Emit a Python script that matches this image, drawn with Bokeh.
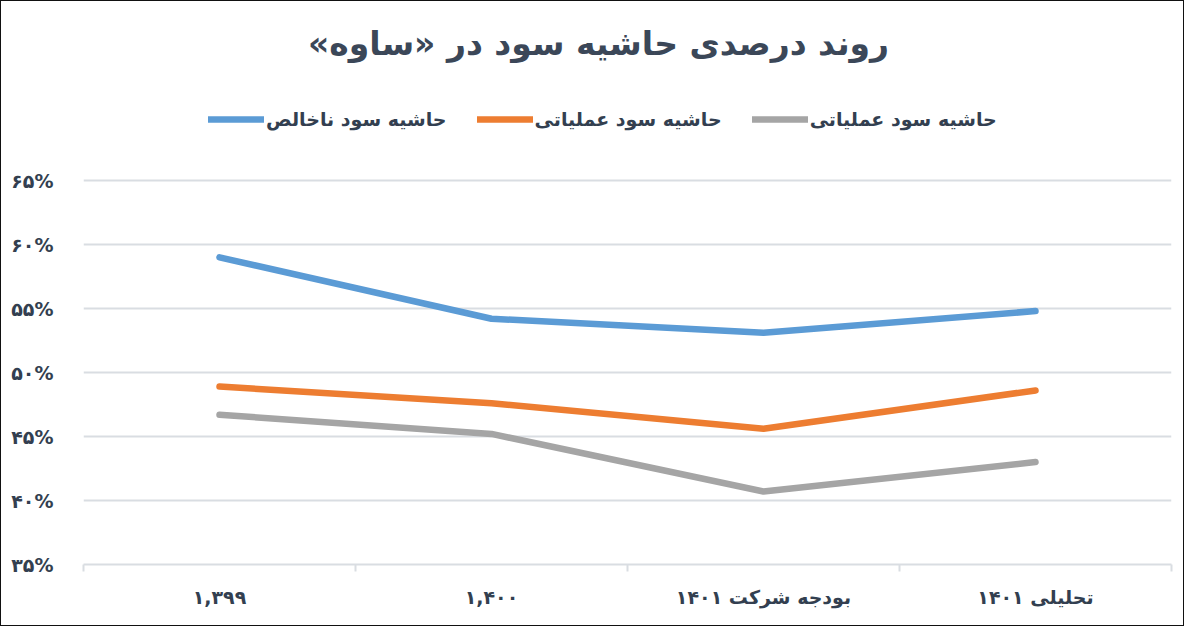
from bokeh.plotting import figure
from bokeh.models import Legend, LegendItem, FixedTicker, Range1d, ColumnDataSource, Label
from bokeh.embed import file_html
from bokeh.resources import INLINE

RLM = "\u200f"
title_text = "روند درصدی حاشیه سود در «ساوه»"
categories = ["۱,۳۹۹", "۱,۴۰۰", "بودجه شرکت ۱۴۰۱", "تحلیلی ۱۴۰۱"]
series_names = ["حاشیه سود ناخالص", "حاشیه سود عملیاتی", "حاشیه سود عملیاتی"]
gross = [59.0, 54.2, 53.1, 54.8]
operating = [48.9, 47.6, 45.6, 48.6]
operating2 = [46.7, 45.2, 40.7, 43.0]
y_ticks = [35, 40, 45, 50, 55, 60, 65]
y_labels = ["۳۵%", "۴۰%", "۴۵%", "۵۰%", "۵۵%", "۶۰%", "۶۵%"]
colors = ["#5b9bd5", "#ed7d31", "#a5a5a5"]

FONT = "DejaVu Sans"
TXT = "#333f50"

W, H = 1184, 626
BL, BR, BB = 82, 14, 63
TOP_GAP = 179            # pixels above the 65% gridline for title and legend
frame_h = H - BB
px_per_unit = (frame_h - TOP_GAP) / (y_ticks[-1] - y_ticks[0])
y_end = y_ticks[-1] + TOP_GAP / px_per_unit

xs = [i + 0.5 for i in range(len(categories))]

p = figure(width=W, height=H, output_backend="svg", toolbar_location=None,
           x_range=Range1d(0, len(categories)), y_range=Range1d(y_ticks[0], y_end),
           min_border_left=BL, min_border_right=BR, min_border_bottom=BB,
           min_border_top=0)

renderers = []
for vals, c in zip([gross, operating, operating2], colors):
    src = ColumnDataSource(dict(x=xs, y=vals))
    r = p.line("x", "y", source=src, line_color=c, line_width=6.5,
               line_cap="round", line_join="round")
    renderers.append(r)

title = Label(x=515, y=frame_h - 42, x_units="screen", y_units="screen",
              text=RLM + title_text + RLM, text_align="center", text_baseline="middle",
              text_font=FONT, text_font_size="33px", text_font_style="bold",
              text_color="#3b4758")
p.add_layout(title)

legend = Legend(items=[LegendItem(label=RLM + n + RLM, renderers=[r]) for n, r in zip(series_names, renderers)],
                orientation="horizontal", location=(125, frame_h - 129),
                label_text_font=FONT, label_text_font_size="19px",
                label_text_font_style="bold", label_text_color=TXT,
                glyph_width=56, glyph_height=20, label_standoff=2, spacing=30,
                border_line_color=None, background_fill_alpha=0,
                margin=0, padding=0)
p.add_layout(legend)

p.outline_line_color = None
p.background_fill_color = "white"
p.border_fill_color = "white"

p.xgrid.visible = False
p.ygrid.ticker = FixedTicker(ticks=y_ticks)
p.ygrid.grid_line_color = "#d9dde2"
p.ygrid.grid_line_width = 2

p.yaxis.ticker = FixedTicker(ticks=y_ticks)
p.yaxis.major_label_overrides = {t: l for t, l in zip(y_ticks, y_labels)}
p.yaxis.axis_line_color = None
p.yaxis.major_tick_line_color = None
p.yaxis.minor_tick_line_color = None
p.yaxis.major_label_text_font = FONT
p.yaxis.major_label_text_font_size = "19px"
p.yaxis.major_label_text_font_style = "bold"
p.yaxis.major_label_text_color = TXT
p.yaxis.major_label_standoff = 24

p.xaxis.ticker = FixedTicker(ticks=xs, minor_ticks=list(range(len(categories) + 1)))
p.xaxis.major_label_overrides = {x: RLM + c + RLM for x, c in zip(xs, categories)}
p.xaxis.axis_line_color = "#d9dde2"
p.xaxis.axis_line_width = 2
p.xaxis.major_tick_line_color = None
p.xaxis.minor_tick_line_color = "#d9dde2"
p.xaxis.minor_tick_line_width = 2
p.xaxis.minor_tick_out = 7
p.xaxis.minor_tick_in = 0
p.xaxis.major_label_text_font = FONT
p.xaxis.major_label_text_font_size = "19px"
p.xaxis.major_label_text_font_style = "bold"
p.xaxis.major_label_text_color = TXT
p.xaxis.major_label_standoff = 14

p.styles = {"border": "1px solid #111"}

open("out.html", "w").write(file_html(p, INLINE))
